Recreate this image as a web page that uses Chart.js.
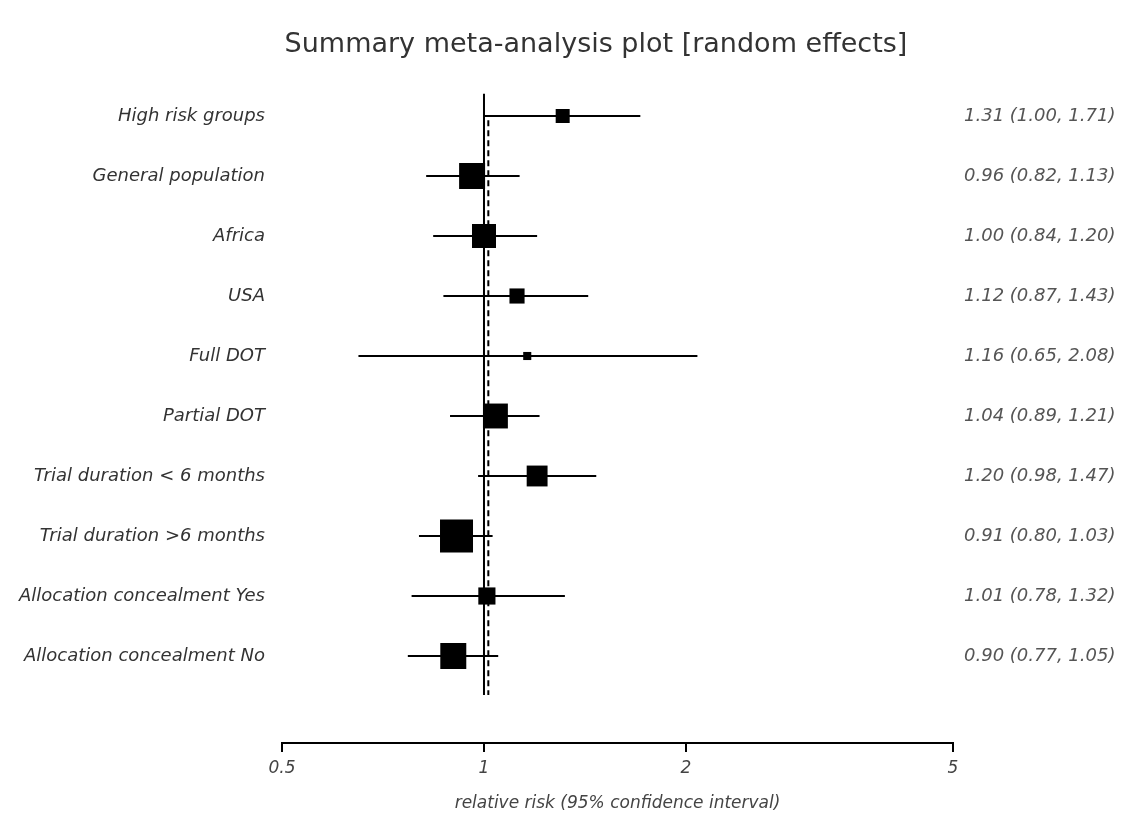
<!DOCTYPE html>
<html>
<head>
<meta charset="utf-8">
<style>
  html, body { margin: 0; padding: 0; background: #fff; }
  #wrap { width: 1132px; height: 822px; overflow: hidden; }
</style>
</head>
<body>
<div id="wrap"><canvas id="forest" width="1132" height="822"></canvas></div>
<script src="https://cdn.jsdelivr.net/npm/chart.js"></script>
<script>
// subgroup estimates (relative risk, 95% CI) and box weights
const groups = [
  'High risk groups', 'General population', 'Africa', 'USA', 'Full DOT',
  'Partial DOT', 'Trial duration < 6 months', 'Trial duration >6 months',
  'Allocation concealment Yes', 'Allocation concealment No'
];
const rr = [1.31, 0.96, 1.00, 1.12, 1.16, 1.04, 1.20, 0.91, 1.01, 0.90];
const lo = [1.00, 0.82, 0.84, 0.87, 0.65, 0.89, 0.98, 0.80, 0.78, 0.77];
const hi = [1.71, 1.13, 1.20, 1.43, 2.08, 1.21, 1.47, 1.03, 1.32, 1.05];
const weights = [18, 62, 53, 21, 6, 57, 40, 100, 27, 62];
const xTicks = [0.5, 1, 2, 5];
const pooled = 1.015;

const rows = groups.map((g, i) => i + 1);
const fmt = v => v.toFixed(2);
const estText = rows.map((r, i) => `${fmt(rr[i])} (${fmt(lo[i])}, ${fmt(hi[i])})`);

// CI whiskers as one broken line: lo -> hi, then a gap
const ciPts = [];
rows.forEach((r, i) => {
  ciPts.push({ x: lo[i], y: r }, { x: hi[i], y: r }, { x: hi[i], y: null });
});

const boxes = rows.map((r, i) => ({ x: rr[i], y: r }));
const boxRadius = weights.map(w => 3.3 * Math.sqrt(w) / Math.SQRT2);

const yMin = 0.5, yMax = 11.45;
const labelFont = { family: 'DejaVu Sans', size: 18, style: 'italic' };
const rowTicks = scale => { scale.ticks = rows.map(v => ({ value: v })); };

new Chart(document.getElementById('forest'), {
  type: 'line',
  data: {
    datasets: [
      {
        data: boxes,
        showLine: false,
        pointStyle: 'rect',
        pointRadius: boxRadius,
        pointBorderWidth: 0,
        pointBackgroundColor: '#000'
      },
      {
        data: ciPts,
        borderColor: '#000',
        borderWidth: 2,
        pointRadius: 0,
        spanGaps: false
      },
      {
        // line of no effect
        data: [{ x: 1, y: 0.63 }, { x: 1, y: 10.65 }],
        borderColor: '#000',
        borderWidth: 2,
        pointRadius: 0
      },
      {
        // pooled random-effects estimate
        data: [{ x: pooled, y: 1.07 }, { x: pooled, y: 10.65 }],
        borderColor: '#000',
        borderWidth: 2,
        borderDash: [6, 4],
        pointRadius: 0
      }
    ]
  },
  options: {
    responsive: false,
    animation: false,
    events: [],
    // right side runs past the canvas so the title sits a little right of centre
    layout: { padding: { left: 0, right: -60, top: 0, bottom: 0 } },
    plugins: {
      legend: { display: false },
      tooltip: { enabled: false },
      title: {
        display: true,
        text: 'Summary meta-analysis plot [random effects]',
        color: '#333',
        font: { family: 'DejaVu Sans', size: 27, weight: 'normal', lineHeight: 1.2 },
        padding: { top: 29, bottom: 24.6 }
      }
    },
    scales: {
      x: {
        type: 'logarithmic',
        min: 0.5,
        max: 5,
        afterBuildTicks: scale => { scale.ticks = xTicks.map(v => ({ value: v })); },
        afterFit: scale => { scale.height = 79; },
        border: { display: true, color: '#000', width: 2 },
        grid: { display: true, drawOnChartArea: false, drawTicks: true, tickLength: 9, color: '#000', lineWidth: 2 },
        ticks: {
          color: '#444',
          font: { family: 'DejaVu Sans', size: 17, style: 'italic' },
          padding: 6,
          maxRotation: 0,
          autoSkip: false,
          callback: v => String(v)
        },
        title: {
          display: true,
          text: 'relative risk (95% confidence interval)',
          color: '#444',
          font: { family: 'DejaVu Sans', size: 17, style: 'italic' },
          padding: { top: 0, bottom: 8 }
        }
      },
      y: {
        type: 'linear',
        position: 'left',
        reverse: true,
        min: yMin,
        max: yMax,
        afterBuildTicks: rowTicks,
        afterFit: scale => { scale.width = 282; },
        border: { display: false },
        grid: { display: false, drawTicks: false },
        ticks: {
          color: '#333',
          font: labelFont,
          padding: 17,
          autoSkip: false,
          callback: v => groups[v - 1] || ''
        }
      },
      y2: {
        type: 'linear',
        position: 'right',
        reverse: true,
        min: yMin,
        max: yMax,
        afterBuildTicks: rowTicks,
        afterFit: scale => { scale.width = 239; },
        border: { display: false },
        grid: { display: false, drawTicks: false },
        ticks: {
          color: '#555',
          font: labelFont,
          padding: 11,
          autoSkip: false,
          callback: v => estText[v - 1] || ''
        }
      }
    }
  }
});
</script>
</body>
</html>
